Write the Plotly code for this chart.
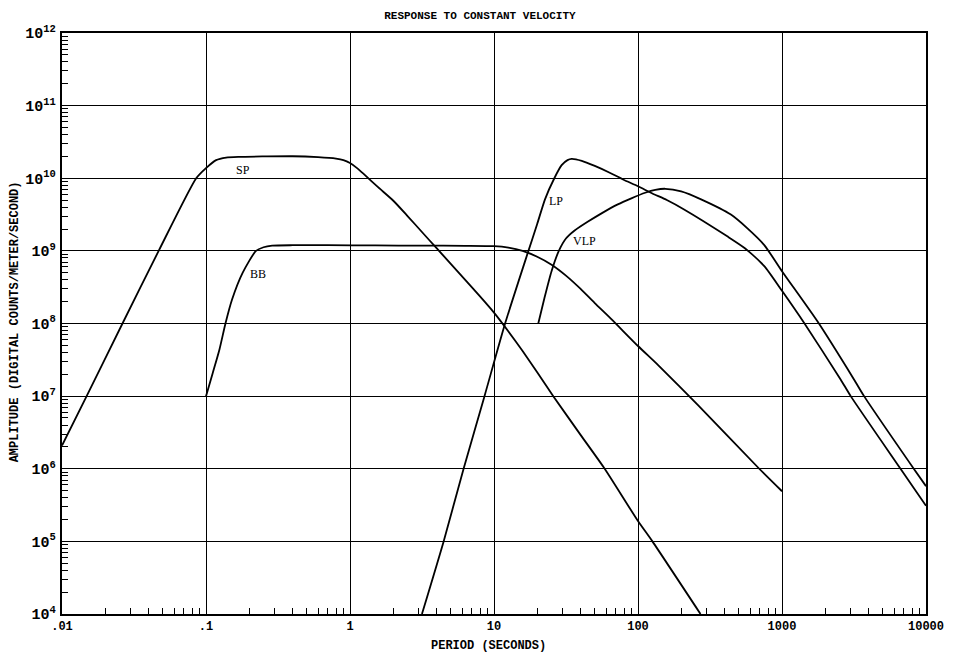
import math
import plotly.graph_objects as go

# Response curves: period in seconds vs log10 amplitude (counts per m/s)
sp_period = [0.01, 0.01483, 0.0263, 0.0469, 0.0855, 0.1, 0.1175, 0.138, 0.17,
             0.25, 0.4, 0.6, 0.8, 0.9, 1.0, 1.12, 1.26, 1.58, 2.0, 2.51, 3.16,
             3.98, 5.01, 6.31, 7.94, 10.0, 12.6, 15.8, 19.95, 25.8, 39.8, 58.7,
             100.0, 125.9, 271.6]
sp_logamp = [6.32, 7.0, 8.0, 9.0, 10.0, 10.14, 10.25, 10.285, 10.295,
             10.30, 10.303, 10.29, 10.27, 10.25, 10.21, 10.14, 10.05, 9.87,
             9.69, 9.48, 9.26, 9.04, 8.82, 8.60, 8.38, 8.15, 7.89, 7.62, 7.33,
             7.0, 6.47, 6.0, 5.28, 5.0, 4.0]

bb_period = [0.1, 0.1114, 0.1239, 0.1365, 0.1517, 0.1799, 0.2223, 0.251, 0.288,
             0.4, 0.7, 1.5, 3.16, 6.3, 10.0, 12.6, 15.8, 19.95, 25.1, 31.6, 39.8,
             50.1, 65.3, 100.0, 137.4, 260.0, 695.0, 1000.0]
bb_logamp = [7.0, 7.32, 7.64, 8.0, 8.33, 8.70, 9.0, 9.05, 9.072,
             9.078, 9.078, 9.075, 9.072, 9.07, 9.065, 9.045, 9.0, 8.92, 8.81,
             8.66, 8.48, 8.28, 8.06, 7.69, 7.43, 6.88, 6.0, 5.69]

lp_period = [3.16, 4.47, 6.15, 8.59, 11.94, 17.34, 19.95, 22.6, 26.24, 29.5,
             32.4, 34.6, 40.7, 50.1, 63.1, 79.4, 100.0, 125.9, 158.5, 208.9,
             416.9, 549.5, 753.4, 1000.0, 1422.0, 2553.0, 3000.0, 6653.0, 10000.0]
lp_logamp = [4.0, 5.0, 6.0, 7.0, 8.0, 9.0, 9.37, 9.71, 10.0, 10.18,
             10.25, 10.267, 10.24, 10.17, 10.08, 9.98, 9.89, 9.79, 9.70, 9.57,
             9.20, 9.04, 8.79, 8.45, 8.01, 7.23, 7.0, 6.0, 5.49]

vlp_period = [20.3, 22.4, 25.1, 28.2, 31.6, 36.3, 44.7, 56.2, 72.4, 89.1,
              112.2, 131.8, 154.9, 199.5, 274.2, 441.6, 575.4, 753.4, 1000.0,
              1762.0, 3162.0, 3715.0, 8222.0, 10000.0]
vlp_logamp = [8.0, 8.35, 8.72, 9.0, 9.17, 9.28, 9.40, 9.52, 9.64, 9.72,
              9.80, 9.84, 9.855, 9.82, 9.71, 9.50, 9.31, 9.08, 8.72,
              8.03, 7.23, 7.0, 6.0, 5.76]

# Curve labels: (text, period, log10 amplitude)
curve_labels = [("SP", 0.182, 10.11), ("BB", 0.231, 8.675),
                ("LP", 27.1, 9.684), ("VLP", 42.8, 9.134)]

# Period tick labels written in the plotter style (no leading zero)
x_label_alias = {"0.01": ".01", "0.1": ".1", "1k": "1000", "10k": "10000"}

fig = go.Figure()
for per, loga in [(sp_period, sp_logamp), (bb_period, bb_logamp),
                  (lp_period, lp_logamp), (vlp_period, vlp_logamp)]:
    fig.add_trace(go.Scatter(
        x=per, y=[10 ** v for v in loga], mode="lines",
        line=dict(color="black", width=1.8, shape="spline", smoothing=0.6),
        hoverinfo="skip", showlegend=False))

for text, per, loga in curve_labels:
    fig.add_annotation(x=math.log10(per), y=loga, text=text,
                       showarrow=False, xref="x", yref="y",
                       font=dict(family="Liberation Serif", size=12, color="black"))

mono = "Liberation Mono"
axis_common = dict(
    type="log", tickmode="linear", dtick=1,
    showgrid=True, gridcolor="black", gridwidth=1.4,
    showline=True, linecolor="black", linewidth=1.6, mirror=True,
    ticks="inside", ticklen=6, tickwidth=1.2, tickcolor="black", zeroline=False,
    minor=dict(ticks="inside", ticklen=6, tickwidth=1.2, tickcolor="black",
               dtick="D1", showgrid=False),
)

fig.update_xaxes(range=[-2, 4], labelalias=x_label_alias,
                 tickfont=dict(family=mono, size=12, color="black", weight="bold"),
                 **axis_common)
fig.update_yaxes(range=[4, 12], exponentformat="power", showexponent="all",
                 ticklabelstandoff=2,
                 tickfont=dict(family=mono, size=12, color="black", weight="bold"),
                 **axis_common)

fig.update_layout(
    width=956, height=659,
    margin=dict(l=62, r=27, t=33, b=45),
    plot_bgcolor="white", paper_bgcolor="white",
    showlegend=False,
    title=dict(text="RESPONSE TO CONSTANT VELOCITY", x=0.502, xref="container",
               xanchor="center", y=1 - 15 / 659, yref="container", yanchor="middle",
               font=dict(family=mono, size=11, color="black", weight="bold")),
)
fig.add_annotation(text="PERIOD (SECONDS)", xref="paper", yref="paper",
                   x=0.494, y=-0.055, showarrow=False, yanchor="middle",
                   font=dict(family=mono, size=12, color="black", weight="bold"))
fig.add_annotation(text="AMPLITUDE (DIGITAL COUNTS/METER/SECOND)", xref="paper",
                   yref="paper", x=-0.054, y=0.5026, showarrow=False, textangle=-90,
                   xanchor="center", yanchor="middle",
                   font=dict(family=mono, size=12, color="black", weight="bold"))

fig.write_html("out.html")
